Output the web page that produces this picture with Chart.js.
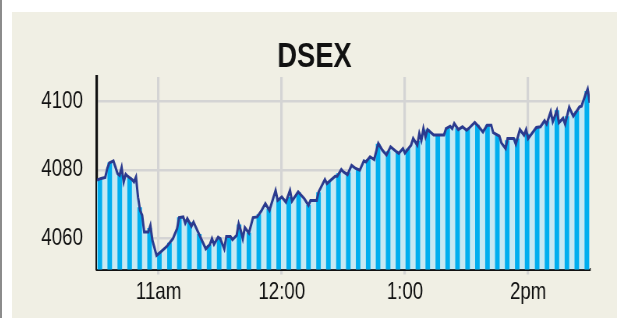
<!DOCTYPE html>
<html>
<head>
<meta charset="utf-8">
<script src="https://cdn.jsdelivr.net/npm/chart.js@4"></script>
<style>
body{margin:0;background:#fff;width:624px;height:318px;overflow:hidden}
#edge{position:absolute;left:0;top:0;width:2px;height:318px;background:#8c8c8c}
#panel{position:absolute;left:12px;top:12px;width:605px;height:306px;background:#f0efe4}
</style>
</head>
<body>
<div id="edge"></div>
<!-- canvas is drawn wider and squeezed to get the condensed type of the original -->
<div id="panel"><canvas id="dsexChart" width="776" height="306" style="width:605px;height:306px;display:block"></canvas></div>
<script>
// minutes after 10:30 and index value of the line
const lineMinutes = [0,2,4,5,6,8,9,10,11,12,13,14,15,17,18,19,20,21,22,23,25,26,27,29,31,34,37,39,40,42,43,44,46,47,50,53,55,56,57,59,60,62,63,65,66,68,69,70,71,72,74,76,78,80,82,84,87,88,90,92,94,95,98,101,103,104,107,108,111,112,116,117,119,120,122,124,126,128,130,131,133,135,137,139,141,143,146,147,149,150,153,154,156,157,158,159,160,161,164,169,170,172,173,174,176,178,180,181,184,186,188,190,192,193,196,197,199,200,203,204,206,208,209,210,214,216,218,219,221,222,224,225,227,228,230,232,235,236,238,239,240]
const lineValues = [4077,4077.5,4077.8,4080.4,4082,4082.6,4080.8,4078.9,4078.4,4080.7,4076.5,4078.7,4078.1,4077.2,4076.5,4077.9,4072,4068.2,4066.8,4061.9,4061.9,4063.8,4059.5,4055.1,4056.1,4057.7,4060,4062.9,4066.1,4066.3,4064.5,4065.8,4063.6,4064.8,4060.9,4057,4058.3,4060,4058.3,4060.4,4060,4057,4060.6,4060.6,4059.7,4060.9,4064.3,4062.4,4060,4063.2,4061.6,4066.1,4066.3,4068,4070.2,4068.2,4074,4071.1,4072.1,4070.6,4074,4070.9,4073.6,4071.6,4069.7,4071.1,4071.1,4073.6,4077.2,4076,4078.1,4078.1,4080.1,4079.4,4078.6,4081.3,4080.4,4079.9,4082.6,4082.3,4083.8,4083,4087.7,4085.7,4084.3,4086.7,4085.2,4084.8,4086.2,4084.9,4087.2,4089.1,4087.2,4090.6,4088.6,4092,4089.6,4091.7,4090.1,4090.1,4092,4092.7,4092,4093.5,4091.7,4092.5,4091.5,4092,4093.8,4092.5,4091,4093,4093,4090.8,4089.8,4087.8,4086.2,4089.1,4089.1,4087.5,4091.7,4090.1,4091.7,4089.1,4092.3,4092.5,4094.3,4093.3,4096.9,4094,4097.2,4093.7,4095,4093.3,4098.2,4095.6,4098.3,4098.5,4102,4103.5,4099.5]

// bars (sampled readings)
const barMinutes = [1.4,6.2,11.1,15.9,20.8,25.6,30.4,35.3,40.1,45,49.8,54.6,59.5,64.3,69.2,74,78.8,83.7,88.5,93.4,98.2,103,107.9,112.7,117.6,122.4,127.2,132.1,136.9,141.8,146.6,151.4,156.3,161.1,166,170.8,175.6,180.5,185.3,190.2,195,199.8,204.7,209.5,214.4,219.2,224,228.9,233.7,238.6]
const barValues = [4077.3,4082,4078.6,4077.7,4069,4063,4055.8,4058.7,4066.1,4064.7,4061.2,4058,4060.2,4060.6,4064,4061.6,4067,4068.5,4071.6,4072,4073.4,4069.7,4073.4,4076.4,4078.9,4079.1,4080.1,4083,4087.5,4085.3,4085,4086,4088.3,4091.6,4090.1,4092.3,4092,4091.8,4093,4093,4090.1,4088.5,4089,4090.4,4092.3,4094,4097.2,4095.5,4097,4102.8]

const xTickMinutes = [30,90,150,210]
const xTickLabels = ["11am","12:00","1:00","2pm"]
const yTicks = [4060,4080,4100]

const FONT = "'Liberation Sans',Arial,sans-serif"

const linePts = lineMinutes.map((m,i)=>({x:m,y:lineValues[i]}))
const barPts = barMinutes.map((m,i)=>({x:m,y:barValues[i]}))

new Chart(document.getElementById("dsexChart"),{
data:{
datasets:[
{type:"line",data:linePts,borderWidth:0,borderColor:"rgba(0,0,0,0)",backgroundColor:"#c6e8f2",fill:"start",pointRadius:0,tension:0,order:3},
{type:"bar",data:barPts,backgroundColor:"#00aeef",barThickness:5.2,order:2},
{type:"line",data:linePts,borderWidth:3,borderColor:"#2b3a8e",fill:false,pointRadius:0,tension:0,order:1}
]
},
options:{
responsive:false,
animation:false,
devicePixelRatio:1,
layout:{padding:0},
plugins:{
legend:{display:false},
tooltip:{enabled:false},
title:{display:true,text:"DSEX",color:"#111",font:{family:FONT,size:35,weight:"bold",lineHeight:1},padding:{top:28,bottom:2}}
},
scales:{
x:{
type:"linear",min:0,max:240,offset:false,
afterBuildTicks:s=>{s.ticks=xTickMinutes.map(v=>({value:v}))},
afterFit:s=>{s.height=48.5;s.paddingRight=35},
ticks:{color:"#111",font:{family:FONT,size:24,lineHeight:1},padding:6,maxRotation:0,
callback:(v)=>xTickLabels[xTickMinutes.indexOf(v)]},
grid:{color:"#d4d4d4",lineWidth:3.2,tickLength:5,tickColor:"#d4d4d4",offset:false},
border:{color:"#111",width:3}
},
y:{
min:4051,max:4107,
afterBuildTicks:s=>{s.ticks=yTicks.map(v=>({value:v}))},
afterFit:s=>{s.width=109},
ticks:{color:"#111",font:{family:FONT,size:24,lineHeight:1},padding:18,callback:v=>String(v)},
grid:{color:"#d4d4d4",lineWidth:2.5,drawTicks:false},
border:{color:"#111",width:3.2}
}
}
}
})
</script>
</body>
</html>
